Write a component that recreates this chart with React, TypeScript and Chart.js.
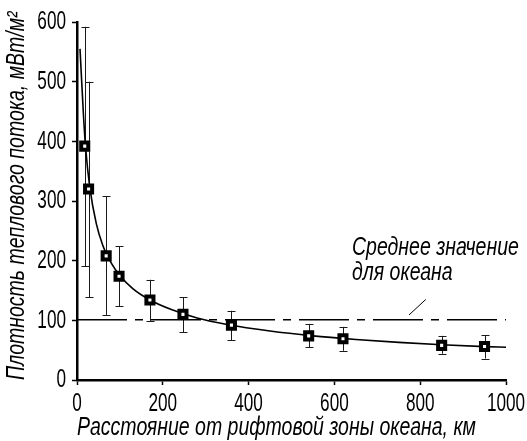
import React, { useEffect, useRef } from "react";
import { Chart, registerables } from "chart.js";

Chart.register(...registerables);

const FONT = "'Liberation Sans', Arial, sans-serif";
const NARROW_ITALIC = 0.75; // horizontal condensing of the italic captions
const NARROW_DIGITS = 0.66; // horizontal condensing of tick numbers

// Measured points (distance km, heat flow mW/m2) with error bar bounds
const pointX = [18, 27, 68, 98, 170, 247, 360, 540, 620, 850, 950];
const pointY = [392, 320, 208, 174, 134, 110, 92, 74, 69, 58, 56];
const errHigh = [592, 500, 308, 224, 168, 139, 116, 94, 89, 74, 75];
const errLow = [191, 139, 109, 124, 99, 80, 67, 55, 49, 44, 36];

// Fitted curve
const curveX = [7, 15, 20, 30, 45, 60, 80, 100, 130, 170, 220, 280, 350, 450, 550, 650, 750, 850, 950, 1000];
const curveY = [555, 445, 390, 322, 262, 226, 196, 175, 153, 134, 118, 104, 93, 82, 74, 68, 63, 59, 56, 55];

// Ocean mean value line
const meanX = [0, 1000];
const meanValue = 101;

// Leader line from label to mean line
const leaderX = [774, 813];
const leaderY = [109, 135];

const labelLines = ["Среднее значение", "для океана"];
const labelAnchorX = 641;
const labelAnchorY = [209, 167];

const xTicks = [0, 200, 400, 600, 800, 1000];
const yTicks = [0, 100, 200, 300, 400, 500, 600];

const xTitle = "Расстояние от рифтовой зоны океана, км";
const yTitle = "Плотность теплового потока, мВт/м²";

const errorBarPlugin = {
  id: "errorBars",
  beforeDatasetsDraw(chart: any) {
    const { ctx, scales } = chart;
    const xs = scales.x;
    const ys = scales.y;
    ctx.save();
    ctx.strokeStyle = "#1a1a1a";
    ctx.lineWidth = 1;
    pointX.forEach((v, i) => {
      const px = Math.round(xs.getPixelForValue(v)) + 0.5;
      const top = ys.getPixelForValue(errHigh[i]);
      const bot = ys.getPixelForValue(errLow[i]);
      ctx.beginPath();
      ctx.moveTo(px, top);
      ctx.lineTo(px, bot);
      ctx.moveTo(px - 4, Math.round(top) + 0.5);
      ctx.lineTo(px + 4, Math.round(top) + 0.5);
      ctx.moveTo(px - 4, Math.round(bot) + 0.5);
      ctx.lineTo(px + 4, Math.round(bot) + 0.5);
      ctx.stroke();
    });
    ctx.restore();
  },
};

const labelPlugin = {
  id: "meanLabel",
  afterDraw(chart: any) {
    const { ctx, scales } = chart;
    ctx.save();
    ctx.fillStyle = "#000";
    ctx.font = `italic 26px ${FONT}`;
    ctx.textAlign = "left";
    ctx.textBaseline = "alphabetic";
    labelLines.forEach((t, i) => {
      ctx.fillText(t, scales.x.getPixelForValue(labelAnchorX), scales.y.getPixelForValue(labelAnchorY[i]));
    });
    ctx.restore();
  },
};

function condenseText(ctx: any) {
  if (ctx.__condensed) return;
  ctx.__condensed = true;
  const orig = ctx.fillText.bind(ctx);
  ctx.fillText = (text: string, x: number, y: number, maxWidth?: number) => {
    const k = String(ctx.font).includes("italic") ? NARROW_ITALIC : NARROW_DIGITS;
    ctx.save();
    ctx.translate(x, y);
    ctx.scale(k, 1);
    if (maxWidth !== undefined) orig(text, 0, 0, maxWidth / k);
    else orig(text, 0, 0);
    ctx.restore();
  };
}

export default function App() {
  const ref = useRef<HTMLCanvasElement | null>(null);

  useEffect(() => {
    if (!ref.current) return;
    const c2d = ref.current.getContext("2d");
    condenseText(c2d);
    const chart = new Chart(ref.current, {
      type: "line",
      data: {
        datasets: [
          {
            type: "scatter",
            data: pointX.map((x, i) => ({ x, y: pointY[i] })),
            pointStyle: "rect",
            pointRadius: 5,
            pointBorderWidth: 4,
            pointBorderColor: "#000",
            pointBackgroundColor: "#fff",
            showLine: false,
          } as any,
          {
            data: curveX.map((x, i) => ({ x, y: curveY[i] })),
            borderColor: "#000",
            borderWidth: 1.6,
            pointRadius: 0,
            cubicInterpolationMode: "monotone",
            fill: false,
          },
          {
            data: meanX.map((x) => ({ x, y: meanValue })),
            borderColor: "#000",
            borderWidth: 1.6,
            borderDash: [50, 8, 8, 8],
            pointRadius: 0,
            fill: false,
          },
          {
            data: leaderX.map((x, i) => ({ x, y: leaderY[i] })),
            borderColor: "#000",
            borderWidth: 1,
            pointRadius: 0,
            fill: false,
          },
        ],
      },
      options: {
        animation: false,
        responsive: true,
        maintainAspectRatio: false,
        layout: { padding: { top: 22, right: 21, bottom: 0, left: 0 } },
        plugins: {
          legend: { display: false },
          tooltip: { enabled: false },
        },
        scales: {
          x: {
            type: "linear",
            min: 0,
            max: 1000,
            afterBuildTicks: (s: any) => {
              s.ticks = xTicks.map((v) => ({ value: v }));
            },
            afterFit: (s: any) => {
              s.height = 61;
              s.paddingLeft = 0;
              s.paddingRight = 0;
            },
            ticks: {
              color: "#000",
              font: { family: FONT, size: 26, lineHeight: 1.2 },
              padding: 3,
              maxRotation: 0,
              callback: (v: any) => String(v),
            },
            grid: {
              drawOnChartArea: false,
              drawTicks: true,
              tickLength: 5,
              tickColor: "#000",
              tickWidth: 1.5,
            },
            border: { display: true, color: "#000", width: 2.5 },
            title: {
              display: true,
              text: xTitle,
              align: "start",
              color: "#000",
              font: { family: FONT, size: 26, style: "italic", lineHeight: 1 },
              padding: { top: 0, bottom: 0 },
            },
          },
          y: {
            type: "linear",
            min: 0,
            max: 600,
            afterBuildTicks: (s: any) => {
              s.ticks = yTicks.map((v) => ({ value: v }));
            },
            afterFit: (s: any) => {
              s.width = 77;
              s.paddingTop = 0;
              s.paddingBottom = 0;
            },
            ticks: {
              color: "#000",
              font: { family: FONT, size: 26, lineHeight: 1.2 },
              padding: 6,
              callback: (v: any) => String(v),
            },
            grid: {
              drawOnChartArea: false,
              drawTicks: true,
              tickLength: 5,
              tickColor: "#000",
              tickWidth: 1.5,
            },
            border: { display: true, color: "#000", width: 2.5 },
            title: {
              display: true,
              text: yTitle,
              align: "start",
              color: "#000",
              font: { family: FONT, size: 26, style: "italic", lineHeight: 1.2 },
              padding: { top: 1.5, bottom: 0 },
            },
          },
        },
      },
      plugins: [errorBarPlugin, labelPlugin],
    });
    return () => chart.destroy();
  }, []);

  return (
    <div style={{ position: "absolute", left: 0, top: 0, width: 527, height: 441, background: "#fff" }}>
      <canvas ref={ref} />
    </div>
  );
}
